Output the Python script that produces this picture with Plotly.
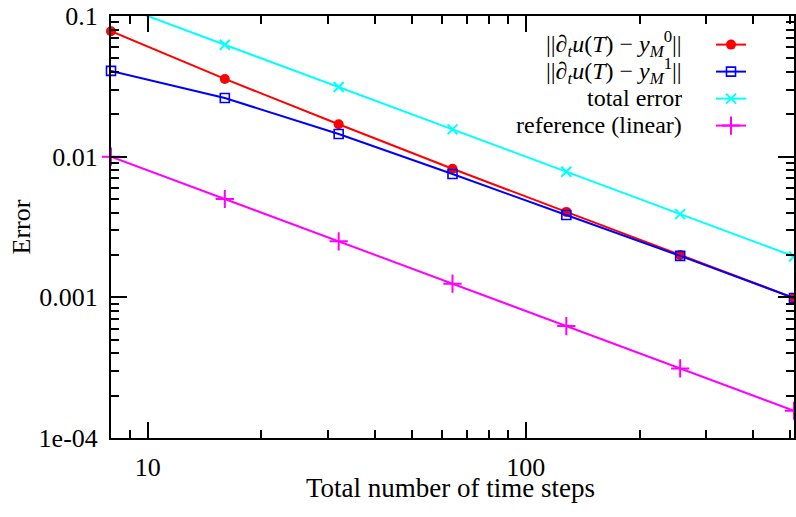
import math
import plotly.graph_objects as go

steps = [8, 16, 32, 64, 128, 256, 512]
err_y0 = [0.078, 0.0357, 0.0170, 0.0082, 0.00405, 0.00200, 0.00099]
err_y1 = [0.0407, 0.0261, 0.0145, 0.00753, 0.00385, 0.00197, 0.00099]
total_err = [0.125, 0.0625, 0.03125, 0.015625, 0.0078125, 0.00390625, 0.001953125]
ref_linear = [0.01, 0.005, 0.0025, 0.00125, 0.000625, 0.0003125, 0.00015625]

labels = [
    "||∂<sub><i>t</i></sub><i>u</i>(<i>T</i>) − <i>y</i><sub><i>M</i></sub><sup>0</sup>||",
    "||∂<sub><i>t</i></sub><i>u</i>(<i>T</i>) − <i>y</i><sub><i>M</i></sub><sup>1</sup>||",
    "total error",
    "reference (linear)",
]

x_tickvals = [10, 100]
x_ticktext = ["10", "100"]
y_tickvals = [0.1, 0.01, 0.001, 0.0001]
y_ticktext = ["0.1", "0.01", "0.001", "1e-04"]
x_minor = [9, 20, 30, 40, 50, 60, 70, 80, 90, 200, 300, 400, 500]
y_minor = [k * 10.0 ** e for e in (-4, -3, -2) for k in range(2, 10)]

x_title = "Total number of time steps"
y_title = "Error"

FONT = "Liberation Serif, Times New Roman, serif"

FIG_W, FIG_H = 796, 517
# plot area in page pixels
L, R, T, B = 111, 794, 16, 438
W, H = R - L, B - T


def px(xp):
    return (xp - L) / W


def py(yp):
    return (B - yp) / H


legend_rows = [44, 71, 98, 125]
legend_names = ["legend", "legend2", "legend3", "legend4"]

styles = [
    dict(color="#ff0000", symbol="circle", size=10, lw=0, clip=False),
    dict(color="#0000ff", symbol="square-open", size=9, lw=1.6, clip=False),
    dict(color="#00ffff", symbol="x-thin-open", size=10, lw=2, clip=True),
    dict(color="#ff00ff", symbol="cross-thin-open", size=13, lw=2, clip=False),
]
series = [err_y0, err_y1, total_err, ref_linear]

fig = go.Figure()
for vals, st, lg in zip(series, styles, legend_names):
    fig.add_trace(go.Scatter(
        x=steps, y=vals, mode="lines+markers", name="", legend=lg,
        cliponaxis=st["clip"],
        line=dict(color=st["color"], width=2),
        marker=dict(symbol=st["symbol"], size=st["size"], color=st["color"],
                    line=dict(width=st["lw"], color=st["color"])),
    ))

axis_common = dict(
    type="log", showline=True, linecolor="black", linewidth=2, mirror="allticks",
    ticks="inside", ticklen=16, tickwidth=2, tickcolor="black", showgrid=False,
    zeroline=False, automargin=False, ticklabeloverflow="allow",
    tickfont=dict(family=FONT, size=26, color="black"),
)

eps = 1e-6
fig.update_xaxes(
    **axis_common,
    range=[math.log10(steps[0]) - eps, math.log10(steps[-1]) + eps],
    tickmode="array", tickvals=x_tickvals, ticktext=x_ticktext,
    ticklabelstandoff=5,
    minor=dict(ticks="inside", ticklen=8, tickwidth=2, tickcolor="black",
               tickmode="array", tickvals=x_minor, showgrid=False),
)
fig.update_yaxes(
    **axis_common,
    range=[-4, -1],
    tickmode="array", tickvals=y_tickvals, ticktext=y_ticktext,
    ticklabelstandoff=6,
    minor=dict(ticks="inside", ticklen=8, tickwidth=2, tickcolor="black",
               tickmode="array", tickvals=y_minor, showgrid=False),
    title=dict(text=y_title, font=dict(family=FONT, size=26, color="black"), standoff=0),
)

fig.add_annotation(text=x_title, xref="paper", yref="paper", x=px(450), y=py(488),
                   xanchor="center", yanchor="middle", showarrow=False,
                   font=dict(family=FONT, size=27, color="black"))

for lab, yp in zip(labels, legend_rows):
    fig.add_annotation(text=lab, xref="paper", yref="paper", x=px(684),
                       y=py(yp), xanchor="right", yanchor="middle", height=26,
                       showarrow=False, font=dict(family=FONT, size=24, color="black"))

legend_layout = {}
for lg, yp in zip(legend_names, legend_rows):
    legend_layout[lg] = dict(
        x=px(711), y=py(yp + 1), xanchor="left", yanchor="middle",
        bgcolor="rgba(0,0,0,0)", borderwidth=0,
        font=dict(family=FONT, size=14), itemwidth=30,
    )

fig.update_layout(
    width=FIG_W, height=FIG_H,
    margin=dict(l=L, r=FIG_W - R, t=T, b=FIG_H - B),
    paper_bgcolor="white", plot_bgcolor="white",
    font=dict(family=FONT, color="black"),
    showlegend=True,
    **legend_layout,
)

fig.write_html(
    "out.html",
    config={"displayModeBar": False, "staticPlot": True},
    post_script="document.body.style.margin='0px';document.body.style.overflow='hidden';",
)
